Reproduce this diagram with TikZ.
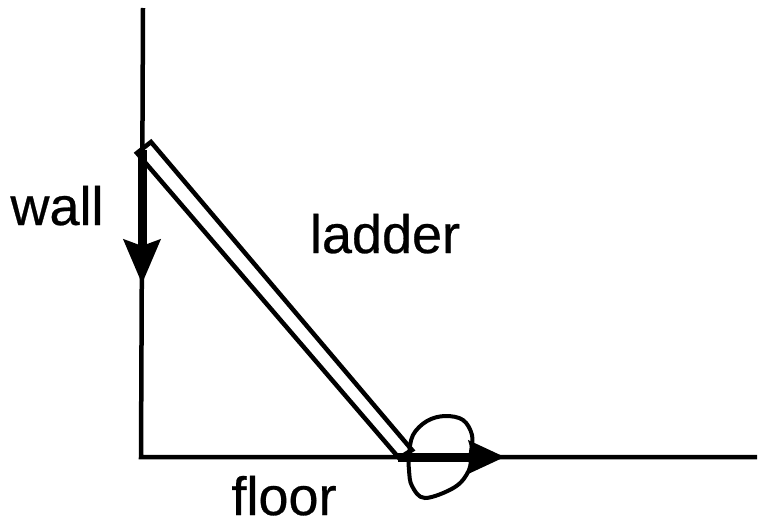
\documentclass[tikz,border=0pt]{standalone}
\usepackage{fontspec}
\setmainfont{Liberation Sans}
\newfontfamily\lblfont[FakeBold=0.5]{Liberation Sans}
\usetikzlibrary{arrows.meta}
\begin{document}
\begin{tikzpicture}[x=1pt,y=-1pt,
  line/.style={line width=4.5pt, black},
  force/.style={line width=9pt, -{Stealth[length=44pt,width=36pt,inset=6pt]}},
  label/.style={font=\lblfont\fontsize{54}{60}\selectfont, anchor=base, inner sep=0pt}]
\useasboundingbox (0,0) rectangle (759,527);
% wall and floor
\coordinate (walltop) at (143,8);
\coordinate (corner) at (141,457);
\coordinate (floorend) at (757,457);
\draw[line, line join=miter] (walltop) -- (corner) -- (floorend);
% ladder
\coordinate (t1) at (151,142);
\coordinate (t2) at (137,153);
\coordinate (b1) at (412,450);
\coordinate (b2) at (399,458);
\draw[line, line join=miter] (t2) -- (t1) -- (b1) -- (b2) -- cycle;
% forces
\coordinate (wa) at (142,150);
\coordinate (wb) at (142,284);
\draw[force] (wa) -- (wb);
\coordinate (fa) at (398,457);
\coordinate (fb) at (505,457);
\draw[force, -{Stealth[length=36pt,width=32pt,inset=4pt]}] (fa) -- (fb);
% loop
\draw[line width=4pt] plot[smooth cycle, tension=0.6] coordinates
  {(409,455) (413,435) (427,421) (445,416) (463,420) (472,435) (471,452)
   (469,470) (455,487) (425,498) (412,486) (409,470)};
% labels
\node[label] (wall) at (57,225) {wall};
\node[label] (ladder) at (385,253) {ladder};
\node[label] (floor) at (284,515) {floor};
\end{tikzpicture}
\end{document}
